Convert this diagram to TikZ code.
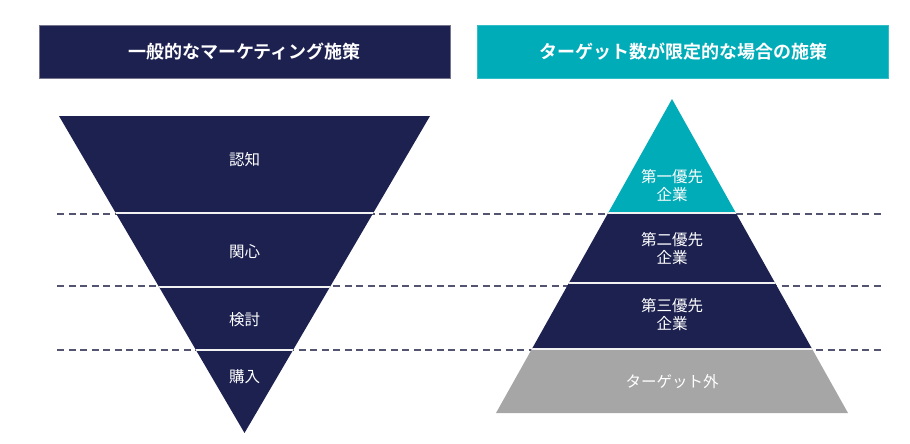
\documentclass[tikz,border=0pt]{standalone}
\usepackage{fontspec}
\setmainfont{Noto Sans CJK JP}[BoldFont={* Bold}]
\usepackage{tikz}
\usetikzlibrary{positioning}

\definecolor{navy}{RGB}{29,33,80}
\definecolor{teal}{RGB}{0,172,184}
\definecolor{grey}{RGB}{166,166,166}
\definecolor{dashcol}{RGB}{82,84,112}

\tikzset{
  header/.style={minimum width=411pt,minimum height=53pt,text=white,
    font=\fontsize{18}{22}\selectfont\bfseries},
  label/.style={text=white,align=center,
    font=\fontsize{15.5}{18}\selectfont},
  guide/.style={dashcol,line width=1.4pt,dash pattern=on 7pt off 4.5pt}
}

\begin{document}
\begin{tikzpicture}[x=1pt,y=-1pt]
\useasboundingbox (0,0) rectangle (910,444);
% dashed guide lines
\coordinate (g1l) at (57,214); \coordinate (g1r) at (882,214);
\coordinate (g2l) at (57,286); \coordinate (g2r) at (882,286);
\coordinate (g3l) at (57,350); \coordinate (g3r) at (882,350);
\foreach \i in {1,2,3}
  \draw[guide] (g\i l) -- (g\i r);
% headers
\node[header,fill=navy,draw=dashcol!80] (h1) at (244.5,51.5){一般的なマーケティング施策};
\node[header,fill=teal,draw=teal!80!white] (h2) at (683,51.5){ターゲット数が限定的な場合の施策};
% funnel
\begin{scope}
\clip (59,116) -- (430,116) -- (244.5,433) -- cycle;
\fill[navy] (0,100) rectangle (910,444);
\foreach \y in {213,287,350}
  \draw[white!90!gray,line width=1.6pt] (0,\y) -- (910,\y);
\end{scope}
% pyramid
\begin{scope}
\clip (672,99) -- (848,413) -- (496,413) -- cycle;
\fill[teal] (450,90) rectangle (910,213);
\fill[navy] (450,213) rectangle (910,349);
\fill[grey] (450,349) rectangle (910,420);
\foreach \y in {213,283,349}
  \draw[white!90!gray,line width=1.6pt] (450,\y) -- (910,\y);
\end{scope}
% labels
\node[label] (f1) at (244.5,160){認知};
\node[label] (f2) at (244.5,252){関心};
\node[label] (f3) at (244.5,320){検討};
\node[label] (f4) at (244.5,377){購入};
\node[label] (p1) at (672,186){第一優先\\企業};
\node[label] (p2) at (672,249){第二優先\\企業};
\node[label] (p3) at (672,315){第三優先\\企業};
\node[label] (p4) at (672,382){ターゲット外};
\end{tikzpicture}
\end{document}
